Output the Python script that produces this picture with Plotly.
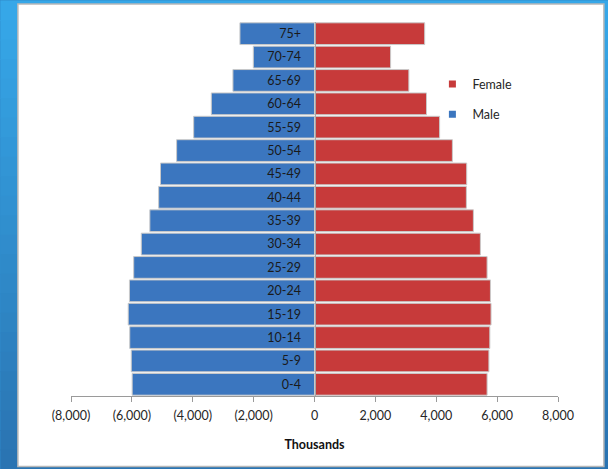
import plotly.graph_objects as go

# Population by age group and sex (thousands)
age_groups = ["0-4", "5-9", "10-14", "15-19", "20-24", "25-29", "30-34", "35-39",
              "40-44", "45-49", "50-54", "55-59", "60-64", "65-69", "70-74", "75+"]
male = [5990, 6020, 6070, 6120, 6080, 5940, 5690, 5410,
        5120, 5060, 4530, 3970, 3390, 2680, 2010, 2450]
female = [5670, 5730, 5760, 5800, 5780, 5670, 5450, 5220,
          4990, 5000, 4530, 4110, 3680, 3100, 2500, 3620]

tick_vals = [-8000, -6000, -4000, -2000, 0, 2000, 4000, 6000, 8000]
tick_text = ["(8,000)", "(6,000)", "(4,000)", "(2,000)", "0", "2,000", "4,000", "6,000", "8,000"]

FEMALE_C = "#c73a3a"
MALE_C = "#3b76bf"

W, H = 608, 469
ML, MR, MT, MB = 70.6, 50.4, 21.6, 73
pw, ph = W - ML - MR, H - MT - MB

FONT = "Lato, 'Open Sans', sans-serif"
outline = dict(color="#c9c9c9", width=1)

fig = go.Figure()
fig.add_trace(go.Bar(
    y=age_groups, x=female, orientation="h", name="Female",
    marker=dict(color=FEMALE_C, line=outline), showlegend=False,
))
fig.add_trace(go.Bar(
    y=age_groups, x=[-v for v in male], orientation="h", name="Male",
    marker=dict(color=MALE_C, line=outline), showlegend=False,
))
# small square legend keys
for name, col, grp in [("Female", FEMALE_C, "f"), ("Male", MALE_C, "m")]:
    fig.add_trace(go.Scatter(
        x=[None], y=[None], mode="markers", name=name, legendgroup=grp,
        marker=dict(symbol="square", size=7, color=col), showlegend=True,
    ))


def px_to_paper_x(px):
    return (px - ML) / pw


def px_to_paper_y(py):
    return (H - py - MB) / ph


# page background: vertical blue gradient behind a white card
shapes = []
steps = 24
top_c = (54, 167, 232)
bot_c = (42, 116, 178)
for i in range(steps):
    t = i / (steps - 1)
    c = tuple(round(top_c[k] + (bot_c[k] - top_c[k]) * t) for k in range(3))
    y_top = i * H / steps
    y_bot = (i + 1) * H / steps + 1
    shapes.append(dict(
        type="rect", xref="paper", yref="paper", layer="below",
        x0=px_to_paper_x(0), x1=px_to_paper_x(W),
        y0=px_to_paper_y(y_bot), y1=px_to_paper_y(y_top),
        fillcolor="rgb(%d,%d,%d)" % c, line=dict(width=0),
    ))

# white card
cx0, cx1, cy0, cy1 = 17.5, 603.5, 3.5, 466.5
shapes.append(dict(
    type="rect", xref="paper", yref="paper", layer="below",
    x0=px_to_paper_x(cx0), x1=px_to_paper_x(cx1),
    y0=px_to_paper_y(cy1), y1=px_to_paper_y(cy0),
    fillcolor="white", line=dict(color="#b8b8b8", width=1.5),
))

fig.update_layout(
    width=W, height=H,
    margin=dict(l=ML, r=MR, t=MT, b=MB),
    paper_bgcolor="rgb(48,140,205)",
    plot_bgcolor="rgba(0,0,0,0)",
    barmode="relative",
    bargap=0.07,
    shapes=shapes,
    font=dict(family=FONT, size=12.5, color="#262626"),
    showlegend=True,
    legend=dict(
        x=px_to_paper_x(432), y=px_to_paper_y(69), xanchor="left", yanchor="top",
        bgcolor="rgba(0,0,0,0)", font=dict(size=12.5, color="#262626"),
        tracegroupgap=11, itemwidth=30,
    ),
    xaxis=dict(
        range=[-8000, 8000], tickvals=tick_vals, ticktext=tick_text,
        showgrid=False, zeroline=False, showline=True, linecolor="#9a9a9a",
        linewidth=1, ticks="outside", ticklen=5, tickcolor="#9a9a9a",
        tickfont=dict(size=12.5, color="#262626"), ticklabelstandoff=3,
        title=dict(text="<b>Thousands</b>", font=dict(size=12.5, color="#111111"), standoff=18),
        fixedrange=True,
    ),
    yaxis=dict(
        anchor="free", position=0.5, showline=True, linecolor="#a8a8a8",
        linewidth=1, ticks="", showgrid=False, zeroline=False,
        tickfont=dict(size=12.5, color="#1a1a1a"), ticklabelstandoff=11,
        fixedrange=True,
    ),
)

fig.write_html("out.html")
